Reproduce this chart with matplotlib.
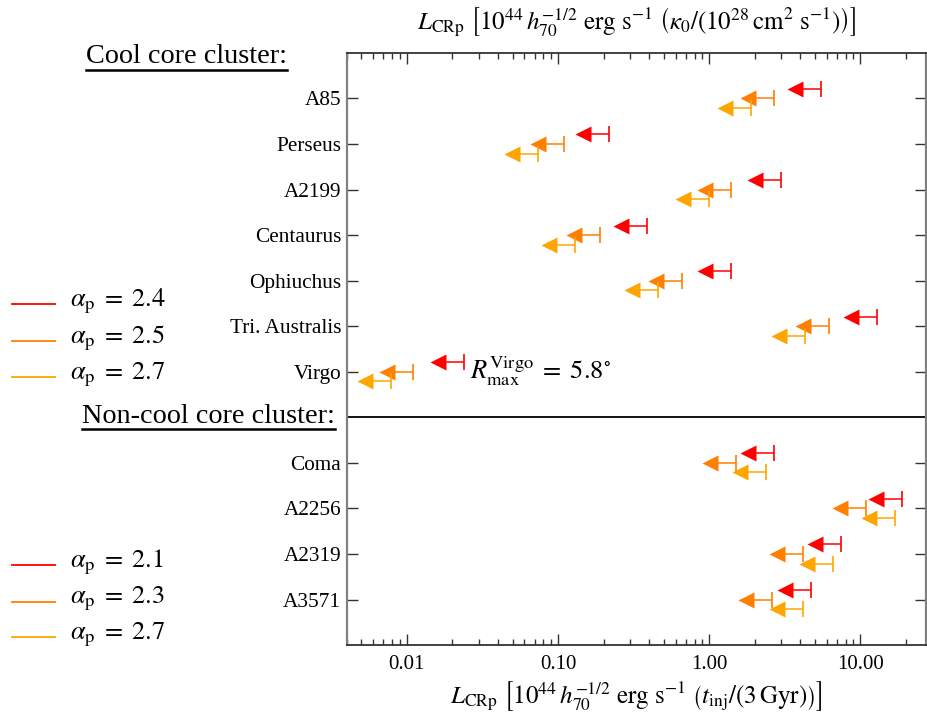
import numpy as np
import matplotlib
matplotlib.use("Agg")
import matplotlib.pyplot as plt
from matplotlib.lines import Line2D
from matplotlib.ticker import FixedLocator, FormatStrFormatter, LogLocator, NullFormatter

plt.rcParams['font.family'] = ['Liberation Serif', 'DejaVu Serif']
plt.rcParams['mathtext.fontset'] = 'stix'

# upper limits on L_CRp (10^44 erg/s)
cool_core = ['A85', 'Perseus', 'A2199', 'Centaurus', 'Ophiuchus', 'Tri. Australis', 'Virgo']
cc_a24 = [5.50, 0.218, 3.00, 0.388, 1.39, 12.9, 0.0238]
cc_a25 = [2.70, 0.110, 1.39, 0.189, 0.656, 6.16, 0.0110]
cc_a27 = [1.90, 0.0739, 0.99, 0.129, 0.458, 4.30, 0.00787]

non_cool_core = ['Coma', 'A2256', 'A2319', 'A3571']
ncc_a21 = [2.70, 18.9, 7.48, 4.69]
ncc_a23 = [1.50, 10.9, 4.18, 2.61]
ncc_a27 = [2.39, 17.0, 6.59, 4.18]

cc_labels = [r'$\alpha_{\rm p}\;=\;2.4$', r'$\alpha_{\rm p}\;=\;2.5$', r'$\alpha_{\rm p}\;=\;2.7$']
ncc_labels = [r'$\alpha_{\rm p}\;=\;2.1$', r'$\alpha_{\rm p}\;=\;2.3$', r'$\alpha_{\rm p}\;=\;2.7$']

colors = ['#FF0000', '#FF7F00', '#FFA500']
offsets = [0.21, 0.0, -0.21]

y_cc = np.arange(12, 12 - len(cool_core), -1)
y_ncc = np.arange(4, 4 - len(non_cool_core), -1)

fig = plt.figure(figsize=(9.27, 7.24), dpi=100)
ax = fig.add_axes([0.374, 0.109, 0.6245, 0.818])


def upper_limits(vals, ys, color):
    vals = np.array(vals)
    tip = vals / 10**0.172
    for v, t, y in zip(vals, tip, ys):
        ax.plot([t, v], [y, y], color=color, lw=1.1, solid_capstyle='butt')
    ax.plot(tip, ys, ls='none', marker='<', ms=11, mec='none', color=color)
    ax.plot(vals, ys, ls='none', marker='|', ms=11, mew=1.2, color=color)


for vals, c, o in zip([cc_a24, cc_a25, cc_a27], colors, offsets):
    upper_limits(vals, y_cc + o, c)
for vals, c, o in zip([ncc_a21, ncc_a23, ncc_a27], colors, offsets):
    upper_limits(vals, y_ncc + o, c)

ax.axhline(5, color='black', lw=1.3)

ax.text(0.0262, 6, r'$R_{\rm max}^{\rm Virgo}\;=\;5.8^{\circ}$', fontsize=19, va='center', ha='left')

ax.set_xscale('log')
ax.set_xlim(0.004, 27)
ax.set_ylim(0, 13)
ax.xaxis.set_major_locator(FixedLocator([0.01, 0.1, 1, 10]))
ax.xaxis.set_major_formatter(FormatStrFormatter('%.2f'))
ax.xaxis.set_minor_locator(LogLocator(base=10, subs=np.arange(2, 10)))
ax.xaxis.set_minor_formatter(NullFormatter())
ax.set_yticks(list(y_cc) + list(y_ncc))
ax.set_yticklabels(cool_core + non_cool_core)

ax.tick_params(axis='both', which='both', direction='in', top=True, right=True, color='#333333')
ax.tick_params(axis='x', which='major', length=8, width=1, pad=7, labelsize=15)
ax.tick_params(axis='x', which='minor', length=4, width=1)
ax.tick_params(axis='y', which='major', length=8, width=1, pad=4, labelsize=15.3)
for s in ['left', 'right']:
    ax.spines[s].set_color('#808080')
    ax.spines[s].set_linewidth(1.6)
for s in ['top', 'bottom']:
    ax.spines[s].set_color('#333333')
    ax.spines[s].set_linewidth(1.3)

ax.set_xlabel(r'$L_{\rm CRp}\ \left[10^{44}\,h_{70}^{-1/2}\ {\rm erg\ s^{-1}}\ \left(t_{\rm inj}/(3\,{\rm Gyr})\right)\right]$',
              fontsize=18, labelpad=4)
fig.text(0.6865, 1 - 22 / 724,
         r'$L_{\rm CRp}\ \left[10^{44}\,h_{70}^{-1/2}\ {\rm erg\ s^{-1}}\ \left(\kappa_0/\left(10^{28}\,{\rm cm^2\ s^{-1}}\right)\right)\right]$',
         fontsize=18, ha='center', va='center')

# section headings with underline
W, H = 927, 724
fig.canvas.draw()
renderer = fig.canvas.get_renderer()
for txt, xr, yb, yu in [('Cool core cluster:', 287, 63, 69.5), ('Non-cool core cluster:', 335, 423, 429)]:
    t = fig.text(xr / W, 1 - yb / H, txt, fontsize=20.3, ha='right', va='baseline')
    bb = t.get_window_extent(renderer)
    fig.add_artist(Line2D([bb.x0 / W, bb.x1 / W], [1 - yu / H, 1 - yu / H], color='black', lw=1.8,
                          transform=fig.transFigure))

# manual legends
for labels, ys in [(cc_labels, [304, 341, 377]), (ncc_labels, [565, 601.7, 637.3])]:
    for lab, c, y in zip(labels, colors, ys):
        fig.add_artist(Line2D([12 / W, 55 / W], [1 - y / H, 1 - y / H], color=c, lw=1.3,
                              transform=fig.transFigure))
        fig.text(70 / W, 1 - (y + 2) / H, lab, fontsize=19, ha='left', va='baseline')

fig.savefig('out.png', dpi=100)
